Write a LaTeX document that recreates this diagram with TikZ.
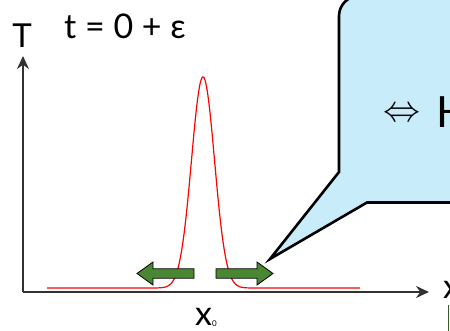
\documentclass[tikz,border=0pt]{standalone}
\usepackage{amsmath,amssymb}
\usepackage{fontspec}
\setmainfont{Lato}
\usetikzlibrary{arrows.meta,positioning}

\definecolor{bubblefill}{RGB}{200,236,250}
\definecolor{pushgreen}{RGB}{74,135,50}
\definecolor{axisgray}{RGB}{50,50,50}

\tikzset{
  axis/.style={draw=axisgray, line width=1.6pt, -{Stealth[length=13pt, width=12pt]}},
  lbl/.style={inner sep=0pt, font=\fontsize{33}{36}\selectfont},
  pushbox/.style={draw=black, line width=0.8pt, fill=pushgreen},
  bubble/.style={draw=black, line width=2.6pt, fill=bubblefill, line join=miter},
}

\begin{document}
\begin{tikzpicture}[x=1pt, y=1pt]
  \useasboundingbox (0,0) rectangle (450,331);
  \clip (0,0) rectangle (450,331);

  % Define nodes
  \coordinate (o) at (23,39);
  \coordinate (ytip) at (23,275);
  \coordinate (xtip) at (429,39);
  \node[lbl, anchor=base] (T) at (22,283) {T};%
  \node[lbl, font=\fontsize{34}{38}\selectfont] (time) at (125,305) {t = 0 + ε};%
  \node[lbl, font=\fontsize{34}{36}\selectfont, anchor=west] (xlab) at (443,41) {x};%
  \node[lbl, font=\fontsize{34}{36}\selectfont, anchor=base] (xzero) at (206,5) {x\raisebox{-1pt}{\fontsize{8}{8}\selectfont 0}};%

  % Define edges - the axes
  \draw[axis] (o) -- (ytip);
  \draw[axis] (o) -- (xtip);

  % heat pulse
  \draw[red, line width=1.2pt]
    (47,43) -- (150,43)
    plot[domain=150:256, samples=160] (\x, {43 + 211*exp(-((\x-203)/11.5)^2/2)})
    -- (360,43);

  % spreading arrows
  \draw[pushbox] (194,62.2) -- (153,62.2) -- (153,69) -- (137,57.5)
    -- (153,46) -- (153,52.8) -- (194,52.8) -- cycle;
  \draw[pushbox] (216,62.2) -- (257,62.2) -- (257,69) -- (273,57.5)
    -- (257,46) -- (257,52.8) -- (216,52.8) -- cycle;

  % callout
  \draw[bubble] (470,128.5) -- (367,128.5) -- (270,72) -- (339,159)
    -- (339,315) arc[start angle=180, end angle=90, radius=20] -- (470,335);
  \node[lbl, anchor=west] (equiv) at (383,216) {\resizebox{37pt}{!}{$\Leftrightarrow$}};%
  \node[lbl, font=\fontsize{43}{46}\selectfont, anchor=base west] (heat) at (436,203) {H};%

  % edge of the next item
  \draw[pushgreen!70!black, line width=1pt] (448,0) -- (448,26);
\end{tikzpicture}
\end{document}
